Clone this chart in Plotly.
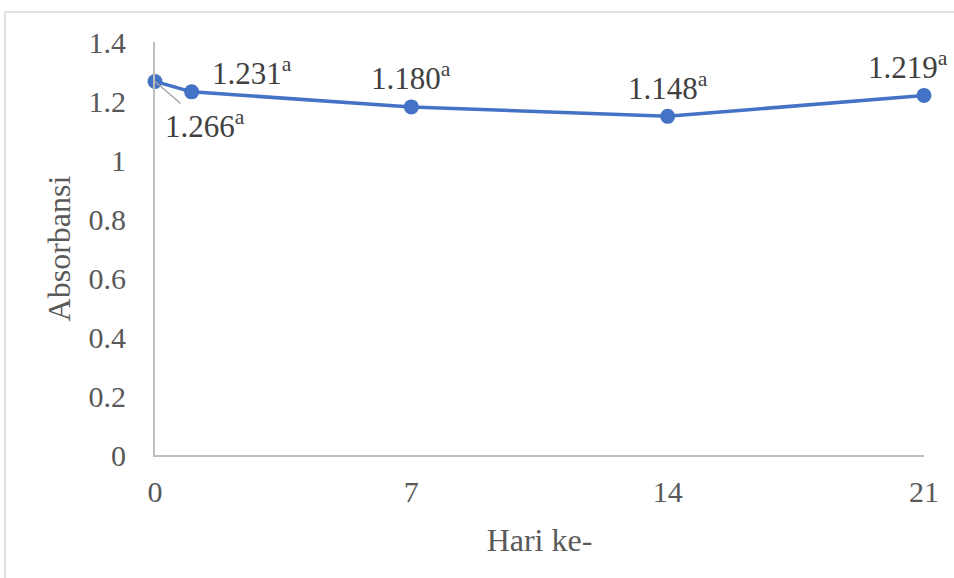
import plotly.graph_objects as go

days = [0, 1, 7, 14, 21]
absorbance = [1.266, 1.231, 1.180, 1.148, 1.219]
labels = ["1.266", "1.231", "1.180", "1.148", "1.219"]
superscripts = ["a", "a", "a", "a", "a"]
x_ticks = [0, 7, 14, 21]
y_ticks = [0, 0.2, 0.4, 0.6, 0.8, 1, 1.2, 1.4]

W, H = 954, 578
ML, MR, MT, MB = 155, 30, 42, 123
pw, ph = W - ML - MR, H - MT - MB

SERIF = "Liberation Serif, Times New Roman, serif"

fig = go.Figure()
fig.add_trace(go.Scatter(
    x=days, y=absorbance, mode="lines+markers",
    line=dict(color="#4472C4", width=3.5),
    marker=dict(color="#4472C4", size=15),
    cliponaxis=False, hoverinfo="skip", showlegend=False,
))

# label offsets (pixels) relative to each point
offsets = [(50, -43), (60, 20), (0, 30), (0, 30), (-16, 30)]
font_lbl = dict(family=SERIF, size=31, color="#404040")
for i, (x, y) in enumerate(zip(days, absorbance)):
    dx, dy = offsets[i]
    txt = f"{labels[i]}<sup>{superscripts[i]}</sup>"
    if i == 0:
        fig.add_annotation(x=x, y=y, text=txt, showarrow=True, arrowhead=0,
                           arrowcolor="#A6A6A6", arrowwidth=1.5, ax=dx, ay=-dy,
                           font=font_lbl, standoff=0)
    else:
        fig.add_annotation(x=x, y=y, text=txt, showarrow=False,
                           xshift=dx, yshift=dy, font=font_lbl)

# outer chart frame
fig.add_shape(type="rect", xref="paper", yref="paper",
              x0=(5 - ML) / pw, x1=(W + 5 - ML) / pw,
              y0=-(H + 5 - MT - ph) / ph, y1=(H - 12 - MB) / ph,
              line=dict(color="#D9D9D9", width=1.5), layer="below")

tickfont = dict(family=SERIF, size=30, color="#595959")
titlefont = dict(family=SERIF, size=32, color="#595959")
fig.update_layout(
    width=W, height=H,
    margin=dict(l=ML, r=MR, t=MT, b=MB, autoexpand=False),
    paper_bgcolor="white", plot_bgcolor="white",
    xaxis=dict(range=[0, 21], tickvals=x_ticks, showgrid=False, zeroline=False,
               showline=True, linecolor="#BFBFBF", linewidth=2, ticks="",
               automargin=False,
               tickfont=tickfont, ticklabelstandoff=9,
               title=dict(text="Hari ke-", font=titlefont, standoff=22)),
    yaxis=dict(range=[0, 1.4], tickvals=y_ticks, showgrid=False, zeroline=False,
               showline=True, linecolor="#BFBFBF", linewidth=2, ticks="",
               automargin=False,
               tickfont=tickfont, ticklabelstandoff=21,
               title=dict(text="Absorbansi", font=titlefont, standoff=8)),
)
fig.write_html("out.html", post_script="document.body.style.margin='0';",
               config={"displayModeBar": False})
